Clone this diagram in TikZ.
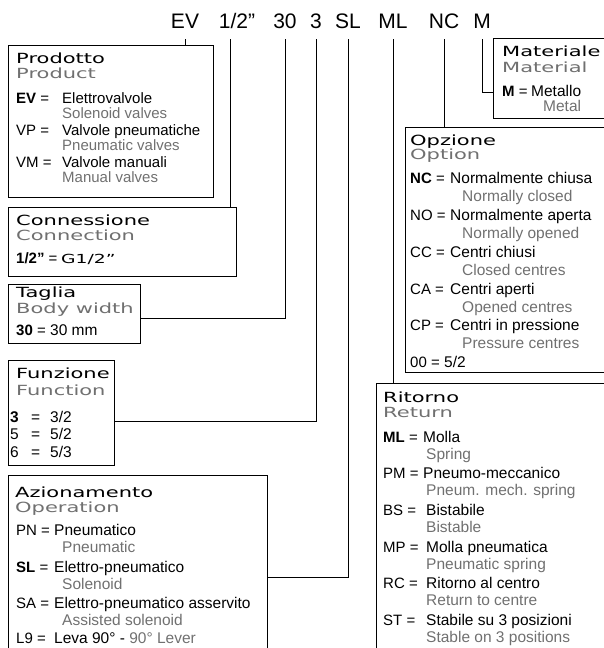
\documentclass[tikz,border=0pt]{standalone}
\usepackage{fontspec}
\usepackage{xcolor}
\usepackage{tikz}
\usetikzlibrary{positioning,calc}
\setmainfont{Liberation Sans}
\newfontfamily\headfont[FakeStretch=1.5]{DejaVu Sans}
\definecolor{transgray}{RGB}{112,112,112}

\begin{document}
\begin{tikzpicture}[x=1pt, y=-1pt,
        box/.style={rectangle, draw=black, line width=1pt, anchor=north west,
            inner sep=0pt, outer sep=0pt},
        wire/.style={black, line width=1pt},
        codetxt/.style={anchor=base, inner sep=0pt, font=\fontsize{21}{24}\selectfont},
        boxhead/.style={anchor=base west, inner sep=0pt, font=\headfont\fontsize{14}{16}\selectfont},
        boxsub/.style={boxhead, text=transgray},
        optkey/.style={anchor=base west, inner sep=0pt, font=\fontsize{15}{17}\selectfont},
        optit/.style={anchor=base west, inner sep=0pt, font=\fontsize{15.5}{18}\selectfont},
        opten/.style={optit, text=transgray},
        small/.style={font=\fontsize{15}{17}\selectfont}
    ]
    \useasboundingbox (0,0) rectangle (603,648);

    % order code
    \node[codetxt] (cEV) at (185,28) {EV};
    \node[codetxt] (cHalf) at (237,28) {1/2”};
    \node[codetxt] (cThirty) at (285,28) {30};
    \node[codetxt] (cThree) at (316,28) {3};
    \node[codetxt] (cSL) at (348,28) {SL};
    \node[codetxt] (cML) at (393,28) {ML};
    \node[codetxt] (cNC) at (444,28) {NC};
    \node[codetxt] (cM) at (482,28) {M};

    % boxes
    \node[box, minimum width=205, minimum height=152] (prod) at (8,45) {};
    \node[box, minimum width=228, minimum height=69] (conn) at (8,207) {};
    \node[box, minimum width=132, minimum height=59] (tag) at (8,284) {};
    \node[box, minimum width=106, minimum height=105] (funz) at (8,360) {};
    \node[box, minimum width=259, minimum height=190] (azio) at (8,475) {};
    \node[box, minimum width=130, minimum height=80] (mat) at (493,38) {};
    \node[box, minimum width=220, minimum height=245] (opz) at (405,127) {};
    \node[box, minimum width=250, minimum height=290] (rit) at (376,383) {};

    % connectors
    \coordinate (tHalf) at ([xshift=-7pt,yshift=-11pt]cHalf.base);
    \draw[wire] ([yshift=-11pt]cEV.base) -- (cEV.base |- prod.north);
    \draw[wire] (tHalf) -- (tHalf |- conn.north);
    \draw[wire] ([yshift=-11pt]cThirty.base) |- ($(tag.north east)+(0,34)$);
    \draw[wire] ([yshift=-11pt]cThree.base) |- ($(funz.north east)+(0,61)$);
    \draw[wire] ([yshift=-11pt]cSL.base) |- ($(azio.north east)+(0,102)$);
    \draw[wire] ([yshift=-11pt]cML.base) -- (cML.base |- rit.north);
    \draw[wire] ([yshift=-11pt]cNC.base) -- (cNC.base |- opz.north);
    \draw[wire] ([yshift=-11pt]cM.base) |- ($(mat.north west)+(0,54)$);

    % Prodotto
    \node[boxhead] (prodHead) at (16,63) {Prodotto};
    \node[boxsub] (prodSub) at (16,78) {Product};
    \foreach \n/\y/\c/\i/\e in {ev/103/\textbf{EV}/Elettrovalvole/Solenoid valves,
        vp/135/VP/Valvole pneumatiche/Pneumatic valves,
        vm/167/VM/Valvole manuali/Manual valves}{
        \node[optkey] (prod-\n) at (16,\y) {\c\ =};
        \node[optit, small] (prod-\n-it) at (62,\y) {\i};
        \node[opten, small] (prod-\n-en) at (62,\y+15) {\e};
    }

    % Connessione
    \node[boxhead] (connHead) at (16,225) {Connessione};
    \node[boxsub] (connSub) at (16,240) {Connection};
    \node[optkey] (conn-half) at (16,263) {\textbf{1/2”} =};
    \node[optkey] (conn-half-it) at (61,263) {\headfont\fontsize{12.5}{14}\selectfont G1/2”};

    % Taglia
    \node[boxhead] (tagHead) at (16,297) {Taglia};
    \node[boxsub] (tagSub) at (16,313) {Body width};
    \node[optkey] (tag-30) at (16,335) {\textbf{30} =};
    \node[optit] (tag-30-it) at (50,335) {30 mm};

    % Funzione
    \node[boxhead] (funzHead) at (16,378) {Funzione};
    \node[boxsub] (funzSub) at (16,395) {Function};
    \node[optit] (funz-3) at (10,422) {\textbf{3}};
    \node[optit] (funz-3-eq) at (31,422) {=};
    \node[optit] (funz-3-it) at (50,422) {3/2};
    \node[optit] (funz-5) at (10,439) {5};
    \node[optit] (funz-5-eq) at (31,439) {=};
    \node[optit] (funz-5-it) at (50,439) {5/2};
    \node[optit] (funz-6) at (10,457) {6};
    \node[optit] (funz-6-eq) at (31,457) {=};
    \node[optit] (funz-6-it) at (50,457) {5/3};

    % Azionamento
    \node[boxhead] (azioHead) at (15,497) {Azionamento};
    \node[boxsub] (azioSub) at (15,512) {Operation};
    \foreach \n/\y/\c/\i/\e in {pn/535/PN/Pneumatico/Pneumatic,
        sl/572/\textbf{SL}/Elettro-pneumatico/Solenoid,
        sa/608/SA/Elettro-pneumatico asservito/Assisted solenoid}{
        \node[optkey] (azio-\n) at (16,\y) {\c\ =};
        \node[optit] (azio-\n-it) at (54,\y) {\i};
        \node[opten] (azio-\n-en) at (62,\y+17) {\e};
    }
    \node[optkey] (azio-l9) at (16,643) {L9 =};
    \node[optit] (azio-l9-it) at (54,643) {Leva 90° - \textcolor{transgray}{90° Lever}};

    % Materiale
    \node[boxhead] (matHead) at (502,56) {Materiale};
    \node[boxsub] (matSub) at (502,72) {Material};
    \node[optkey] (mat-m) at (502,96) {\textbf{M} =};
    \node[optit] (mat-m-it) at (531,96) {Metallo};
    \node[opten] (mat-m-en) at (543,111) {Metal};

    % Opzione
    \node[boxhead] (opzHead) at (410,145) {Opzione};
    \node[boxsub] (opzSub) at (410,159) {Option};
    \foreach \n/\y/\c/\i/\e in {nc/183/\textbf{NC}/Normalmente chiusa/Normally closed,
        no/220/NO/Normalmente aperta/Normally opened,
        cc/257/CC/Centri chiusi/Closed centres,
        ca/294/CA/Centri aperti/Opened centres,
        cp/330/CP/Centri in pressione/Pressure centres}{
        \node[optkey] (opz-\n) at (410,\y) {\c\ =};
        \node[optit] (opz-\n-it) at (450,\y) {\i};
        \node[opten] (opz-\n-en) at (462,\y+18) {\e};
    }
    \node[optkey] (opz-oo) at (410,367) {00 =};
    \node[optit] (opz-oo-it) at (444,367) {5/2};

    % Ritorno
    \node[boxhead] (ritHead) at (383,402) {Ritorno};
    \node[boxsub] (ritSub) at (383,417) {Return};
    \foreach \n/\y/\x/\c/\i/\e in {ml/442/423/\textbf{ML}/Molla/Spring,
        pm/478/423/PM/Pneumo-meccanico/Pneum. mech. spring,
        bs/515/426/BS/Bistabile/Bistable,
        mp/552/426/MP/Molla pneumatica/Pneumatic spring,
        rc/588/426/RC/Ritorno al centro/Return to centre,
        st/625/426/ST/Stabile su 3 posizioni/Stable on 3 positions}{
        \node[optkey] (rit-\n) at (383,\y) {\c\ =};
        \node[optit] (rit-\n-it) at (\x,\y) {\i};
        \node[opten] (rit-\n-en) at (426,\y+17) {\e};
    }
\end{tikzpicture}
\end{document}
